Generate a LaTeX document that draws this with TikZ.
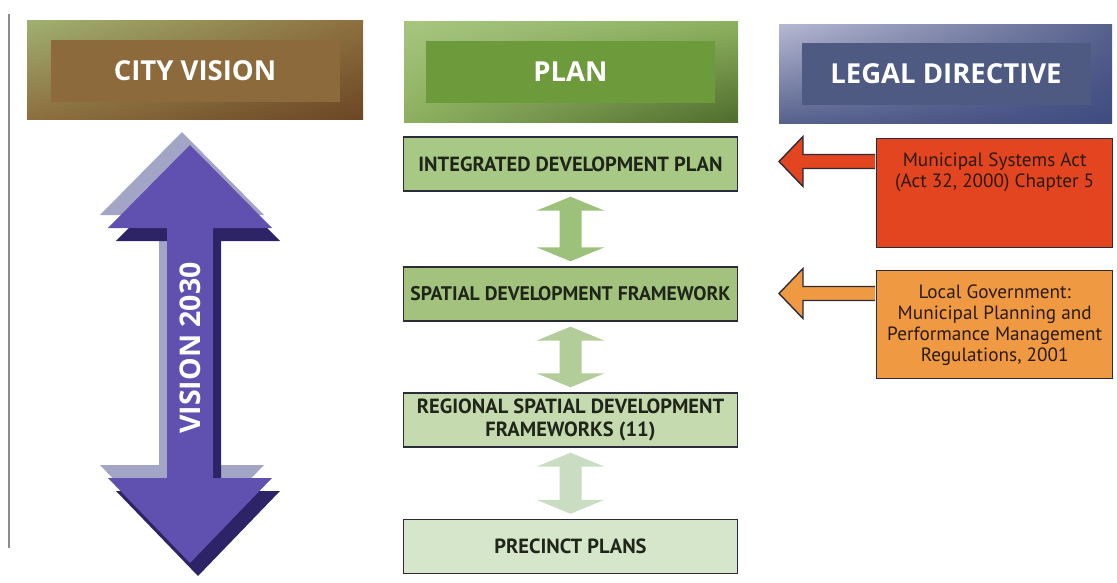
\documentclass[tikz,border=0pt]{standalone}
\usepackage{fontspec}
\setmainfont{PT Sans}
\newfontfamily\headfont{Open Sans}
\usepackage{tikz}
\usetikzlibrary{calc,positioning,shadings}

\definecolor{cityhi}{HTML}{9FB070}
\definecolor{citymid}{HTML}{8D6F3E}
\definecolor{citydark}{HTML}{6B4624}
\definecolor{cityinner}{HTML}{8C6A3B}
\definecolor{planhi}{HTML}{A6C680}
\definecolor{planmid}{HTML}{8CB05E}
\definecolor{plandark}{HTML}{4E6C2C}
\definecolor{planinner}{HTML}{6D9A3B}
\definecolor{legalhi}{HTML}{B5B8D2}
\definecolor{legalmid}{HTML}{56618C}
\definecolor{legaldark}{HTML}{3F4A80}
\definecolor{legalinner}{HTML}{4F5A82}
\definecolor{vislight}{HTML}{A3A5C7}
\definecolor{vismain}{HTML}{6050B0}
\definecolor{visdark}{HTML}{2D2367}
\definecolor{idpfill}{HTML}{A8C886}
\definecolor{sdffill}{HTML}{A2C27E}
\definecolor{rsdffill}{HTML}{C6DAAF}
\definecolor{ppfill}{HTML}{D5E6CA}
\definecolor{arrA}{HTML}{9DC17B}
\definecolor{arrB}{HTML}{B3CD9A}
\definecolor{arrC}{HTML}{CADDC2}
\definecolor{actred}{HTML}{E2451F}
\definecolor{regorange}{HTML}{EF9A42}
\definecolor{boxline}{HTML}{2B2B3A}
\definecolor{plantext}{HTML}{1F2619}
\definecolor{legaltext}{HTML}{2A1A12}

\def\vdarrow[#1](#2)(#3){\fill[#1] ($(#2.south)+(0,5)$) -- ($(#2.south)+(34,19)$) -- ($(#2.south)+(11,19)$) -- ($(#3.north)+(11,-19)$) -- ($(#3.north)+(34,-19)$) -- ($(#3.north)+(0,-5)$) -- ($(#3.north)+(-34,-19)$) -- ($(#3.north)+(-11,-19)$) -- ($(#2.south)+(-11,19)$) -- ($(#2.south)+(-34,19)$) -- cycle;}
\def\legalarrow[#1](#2){\filldraw[#1] ($(#2.north west)+(-0.8,16.5)$) -- ($(#2.north west)+(-73,16.5)$) -- ($(#2.north west)+(-73,-1.5)$) -- ($(#2.north west)+(-97,23.5)$) -- ($(#2.north west)+(-73,48.5)$) -- ($(#2.north west)+(-73,30.5)$) -- ($(#2.north west)+(-0.8,30.5)$);}
\def\visionarrow[#1]{\fill[#1] (190,145) -- (272,228) -- (213,228) -- (213,478) -- (272,478) -- (190,563) -- (108,478) -- (167,478) -- (167,228) -- (108,228) -- cycle;}

\begin{document}
\begin{tikzpicture}[x=1pt, y=-1pt,
	headbox/.style={minimum width=289, minimum height=62, inner sep=0, text=white, font=\headfont\bfseries\fontsize{27.5}{30}\selectfont},
	planbox/.style={draw=boxline, line width=1.4pt, minimum width=334, minimum height=54, inner sep=0, text=plantext, align=center, font=\bfseries\fontsize{20.5}{22.5}\selectfont},
	legalbox/.style={draw=boxline, line width=1.4pt, minimum width=236, inner sep=0, anchor=north west, align=center, text=legaltext, font=\fontsize{19.2}{21}\selectfont},
	legalline/.style={draw=boxline, line width=1.4pt, line join=miter}]
	%%%%% START %%%%%
	\useasboundingbox (0,0) rectangle (1117,583);
	
	\draw[line width=1.2pt, color=black!45] (9,14) -- (9,548);
	
	% headers
	\shade[upper left=cityhi, upper right=citymid, lower left=citymid, lower right=citydark] (27,21) rectangle (363,120);
	\node[headbox, fill=cityinner] (cityvision) at (195,71) {CITY VISION};
	
	\shade[upper left=planhi, upper right=planmid, lower left=planmid, lower right=plandark] (404,22) rectangle (738,123);
	\node[headbox, fill=planinner] (plan) at (570.5,72) {PLAN};
	
	\shade[upper left=legalhi, upper right=legalmid, lower left=legalmid, lower right=legaldark] (779,25) rectangle (1112,124);
	\node[headbox, fill=legalinner] (legal) at (946,74) {LEGAL DIRECTIVE};
	
	% vision 2030
	\visionarrow[vislight, shift={(-8,-13)}]
	\visionarrow[visdark, shift={(8,13)}]
	\visionarrow[vismain]
	\node[rotate=90, text=white, font=\headfont\bfseries\fontsize{28.5}{30}\selectfont] (vision) at (190,348) {VISION 2030};
	
	% plan column
	\node[planbox, fill=idpfill] (idp) at (570.5,164) {INTEGRATED DEVELOPMENT PLAN};
	\node[planbox, fill=sdffill, font=\bfseries\fontsize{19.7}{22}\selectfont] (sdf) at (570.5,294) {SPATIAL DEVELOPMENT FRAMEWORK};
	\node[planbox, fill=rsdffill] (rsdf) at (570.5,420) {REGIONAL SPATIAL DEVELOPMENT\\FRAMEWORKS (11)};
	\node[planbox, fill=ppfill] (pp) at (570.5,546.5) {PRECINCT PLANS};
	
	\vdarrow[arrA](idp)(sdf)
	\vdarrow[arrB](sdf)(rsdf)
	\vdarrow[arrC](rsdf)(pp)
	
	% legal column
	\node[legalbox, fill=actred, minimum height=109] (act) at (876,138) {\parbox[c][81pt][t]{230pt}{\centering Municipal Systems Act\\(Act 32, 2000) Chapter 5}};
	\node[legalbox, fill=regorange, minimum height=108] (regs) at (876,270) {Local Government:\\Municipal Planning and\\Performance Management\\Regulations, 2001};
	
	\legalarrow[legalline, fill=actred](act)
	\legalarrow[legalline, fill=regorange](regs)
	
	%%%%% END %%%%%
\end{tikzpicture}
\end{document}
